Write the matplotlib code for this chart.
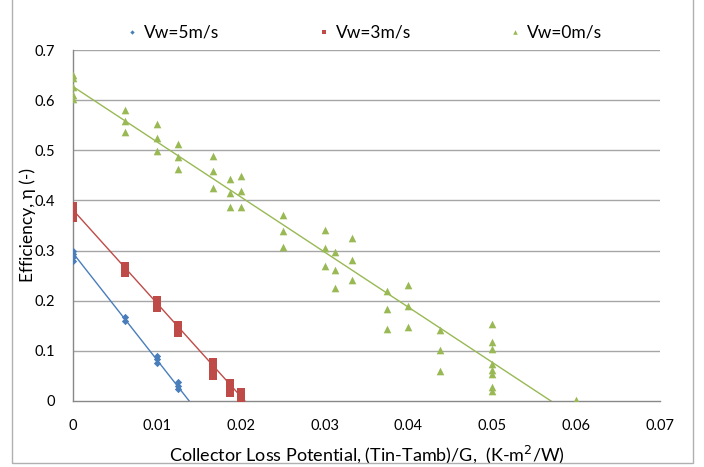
import matplotlib
matplotlib.use("Agg")
import matplotlib.pyplot as plt
from matplotlib.patches import Rectangle
import numpy as np

plt.rcParams['font.family'] = ['Lato', 'DejaVu Sans']

# ---- data ----
x5 = [0, 0, 0, 0, 0.00625, 0.00625, 0.01, 0.01, 0.01, 0.0125, 0.0125, 0.0125]
y5 = [0.300, 0.293, 0.287, 0.280, 0.168, 0.160, 0.090, 0.083, 0.076, 0.037, 0.030, 0.023]

x3 = [0, 0, 0, 0, 0.00625, 0.00625, 0.00625, 0.01, 0.01, 0.01,
      0.0125, 0.0125, 0.0125, 0.01667, 0.01667, 0.01667,
      0.01875, 0.01875, 0.01875, 0.02, 0.02, 0.02]
y3 = [0.388, 0.380, 0.372, 0.365, 0.270, 0.262, 0.255, 0.202, 0.193, 0.185,
      0.152, 0.143, 0.135, 0.078, 0.065, 0.050,
      0.035, 0.025, 0.015, 0.018, 0.010, 0.003]

x0 = [0, 0, 0, 0, 0,
      0.00625, 0.00625, 0.00625,
      0.01, 0.01, 0.01,
      0.0125, 0.0125, 0.0125,
      0.01667, 0.01667, 0.01667,
      0.01875, 0.01875, 0.01875,
      0.02, 0.02, 0.02,
      0.025, 0.025, 0.025,
      0.03, 0.03, 0.03,
      0.03125, 0.03125, 0.03125,
      0.03333, 0.03333, 0.03333,
      0.0375, 0.0375, 0.0375,
      0.04, 0.04, 0.04,
      0.04375, 0.04375, 0.04375,
      0.05, 0.05, 0.05, 0.05, 0.05, 0.05, 0.05, 0.05,
      0.06]
y0 = [0.650, 0.645, 0.627, 0.610, 0.603,
      0.580, 0.558, 0.537,
      0.552, 0.525, 0.499,
      0.512, 0.487, 0.462,
      0.489, 0.459, 0.425,
      0.442, 0.414, 0.386,
      0.448, 0.418, 0.386,
      0.371, 0.340, 0.308,
      0.341, 0.305, 0.270,
      0.297, 0.261, 0.226,
      0.326, 0.282, 0.242,
      0.220, 0.183, 0.144,
      0.231, 0.189, 0.148,
      0.142, 0.102, 0.060,
      0.154, 0.118, 0.103, 0.073, 0.062, 0.054, 0.027, 0.020,
      0.002]

# trendline (intercept, x-intercept)
trend5 = (0.295, 0.01386)
trend3 = (0.381, 0.0205)
trend0 = (0.627, 0.0570)

labels = ['Vw=5m/s', 'Vw=3m/s', 'Vw=0m/s']
colors = ['#4a7ebb', '#be4b48', '#98b954']

xticks = [0, 0.01, 0.02, 0.03, 0.04, 0.05, 0.06, 0.07]
xticklabels = ['0', '0.01', '0.02', '0.03', '0.04', '0.05', '0.06', '0.07']
yticks = [0, 0.1, 0.2, 0.3, 0.4, 0.5, 0.6, 0.7]
yticklabels = ['0', '0.1', '0.2', '0.3', '0.4', '0.5', '0.6', '0.7']

fig = plt.figure(figsize=(7.04, 4.67), dpi=100)
ax = fig.add_axes([73/704, 1-401/467, (660-73)/704, (401-50)/467])

# frame around chart
fig.patches.append(Rectangle((12/704, 1-463/467), (693-12)/704, 463/467 + 0.01,
                             transform=fig.transFigure, fill=False,
                             edgecolor='#b0b0b0', linewidth=1.0))

for v in yticks[1:]:
    ax.axhline(v, color='#a6a6a6', linewidth=1.0, zorder=0)

for (ic, xi), c in zip([trend5, trend3, trend0], colors):
    ax.plot([0, xi], [ic, 0], color=c, linewidth=1.0, zorder=2)

ax.scatter(x5, y5, marker='D', s=14, color=colors[0], label=labels[0], zorder=3, linewidths=0)
ax.scatter(x3, y3, marker='s', s=28, color=colors[1], label=labels[1], zorder=3, linewidths=0)
ax.scatter(x0, y0, marker='^', s=30, color=colors[2], label=labels[2], zorder=3, linewidths=0)

ax.set_xlim(0, 0.07)
ax.set_ylim(0, 0.7)
ax.set_xticks(xticks)
ax.set_xticklabels(xticklabels)
ax.set_yticks(yticks)
ax.set_yticklabels(yticklabels)
ax.tick_params(length=0, labelsize=10.5, pad=13, colors='#000000')
ax.tick_params(axis='y', pad=13)
for s in ['top', 'right']:
    ax.spines[s].set_visible(False)
for s in ['left', 'bottom']:
    ax.spines[s].set_color('#888888')
    ax.spines[s].set_linewidth(1.0)

ax.set_xlabel('Collector Loss Potential, (Tin-Tamb)/G,  (K-m$^2$/W)', fontsize=13, labelpad=8)
ax.set_ylabel('Efficiency, η (-)', fontsize=12.5)
ax.yaxis.set_label_coords((36 - 73) / 587, 0.5)

leg = ax.legend(ncol=3, loc='center', bbox_to_anchor=((362-73)/587, (401-32)/351), frameon=False,
                fontsize=12.5, columnspacing=5.4, handletextpad=0.1, markerscale=0.6,
                handlelength=1.2)
fig.savefig('out.png', dpi=100)
